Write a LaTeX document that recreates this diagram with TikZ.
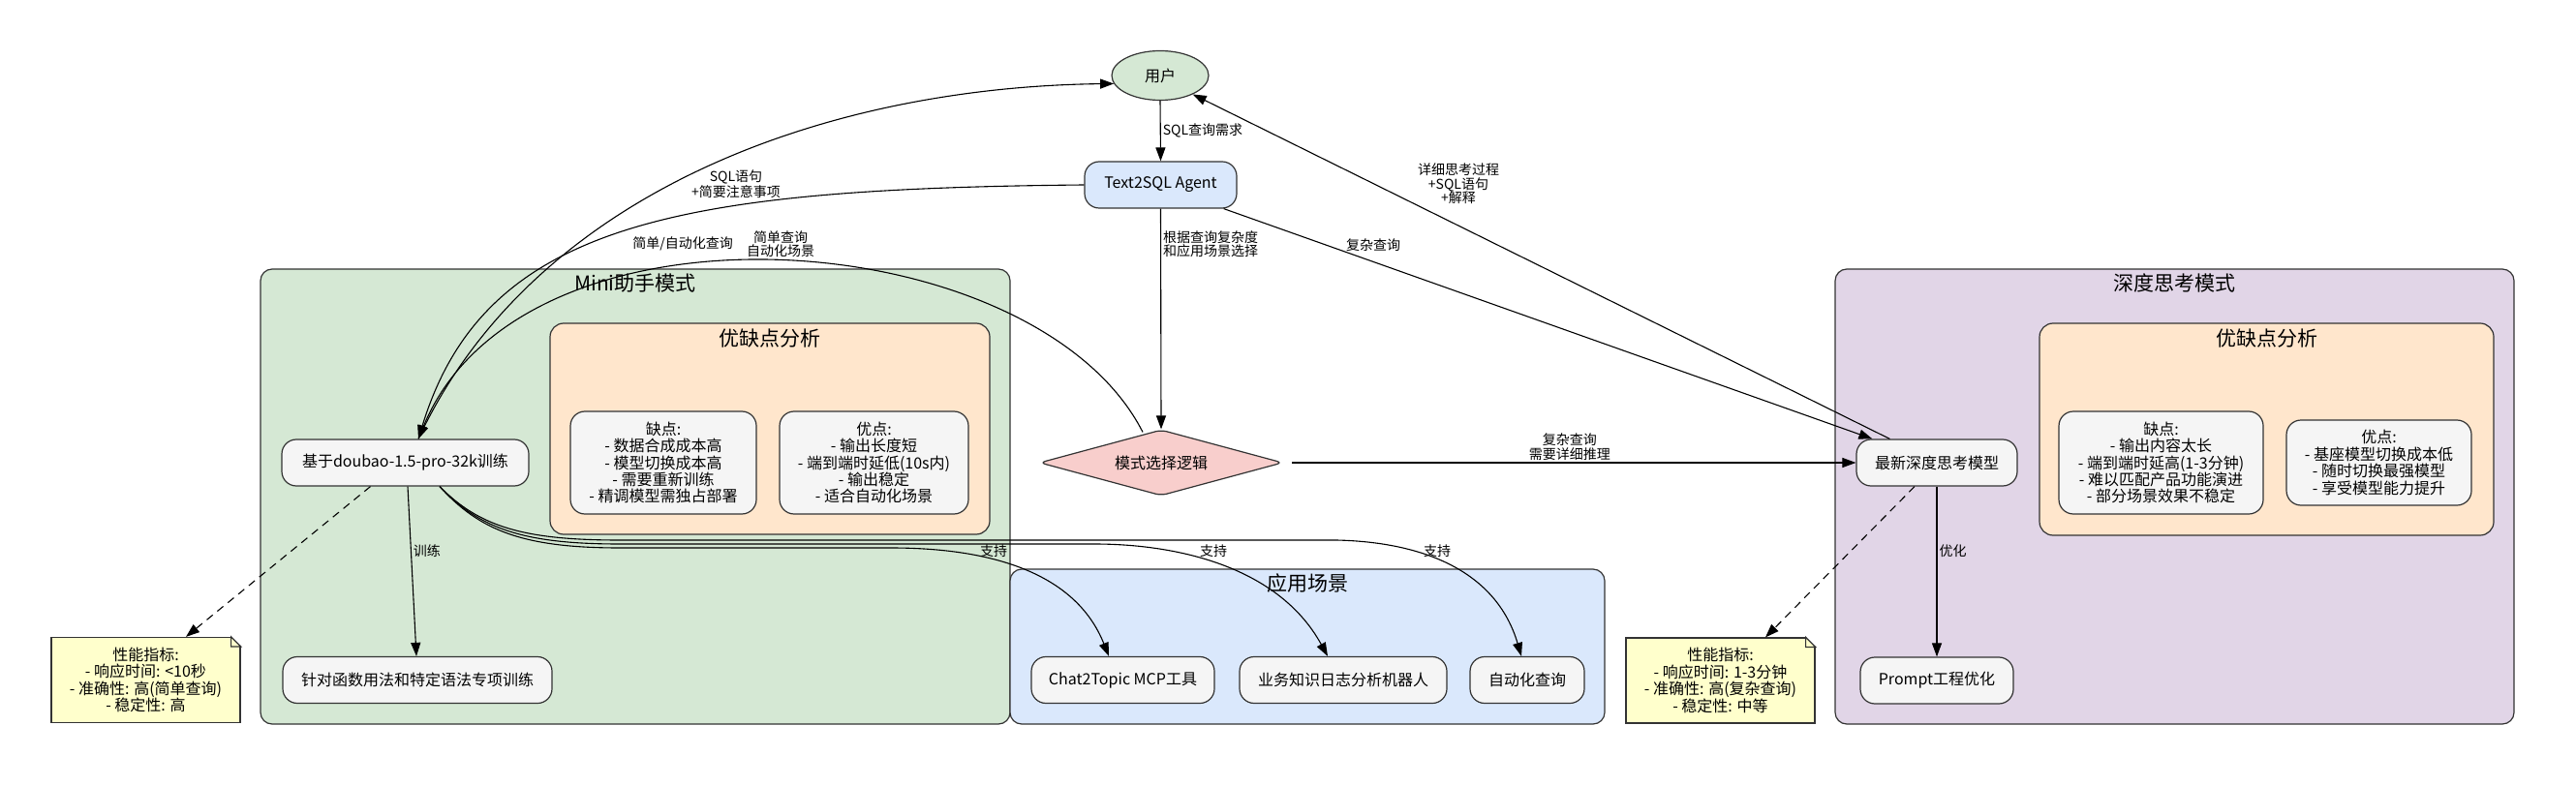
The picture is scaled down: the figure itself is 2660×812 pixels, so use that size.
\documentclass[tikz,border=0pt]{standalone}
\usepackage{fontspec}
\setmainfont{Noto Sans CJK SC}
\usetikzlibrary{arrows.meta,positioning,shapes.geometric}

\definecolor{grpgreen}{HTML}{D5E8D4}
\definecolor{grpblue}{HTML}{DAE8FC}
\definecolor{grppurple}{HTML}{E1D5E7}
\definecolor{prosfill}{HTML}{FFE6CC}
\definecolor{boxgray}{HTML}{F5F5F5}
\definecolor{decpink}{HTML}{F8CECC}
\definecolor{noteyellow}{HTML}{FFFFCC}
\definecolor{edgecol}{HTML}{333333}

\begin{document}
\begin{tikzpicture}[x=0.5pt,y=-0.5pt,>={Triangle[length=7pt,width=5pt]},
 grp/.style={draw=edgecol,line width=0.6pt,rounded corners=6pt,inner sep=0pt},
 gtitle/.style={font=\fontsize{10.5}{12}\selectfont,inner sep=0pt},
 box/.style={draw=edgecol,fill=boxgray,line width=0.6pt,rounded corners=7.5pt,align=center,
   inner sep=2pt,font=\fontsize{8}{8.7}\selectfont,minimum height=24pt},
 note/.style={draw=edgecol,fill=noteyellow,line width=0.6pt,align=center,inner sep=2pt,
   font=\fontsize{8}{8.75}\selectfont,minimum width=97.5pt,minimum height=44pt},
 lbl/.style={font=\fontsize{7}{7.2}\selectfont,align=center,inner sep=1pt},
 flow/.style={->,line width=0.55pt},
 hint/.style={->,line width=0.55pt,dash pattern=on 4pt off 3pt}]
\useasboundingbox (0,0) rectangle (2660,812);
\fill[white] (0,0) rectangle (2660,812);

% groups
\node[grp,fill=grpgreen,minimum width=387pt,minimum height=235pt] (mini) at (656,513) {};
\node[gtitle] (miniT) at ([yshift=-7.5pt]mini.north) {Mini助手模式};
\node[grp,fill=prosfill,rounded corners=7pt,minimum width=227pt,minimum height=109pt] (miniPC) at (795,443) {};
\node[gtitle] (miniPCT) at ([yshift=-8pt]miniPC.north) {优缺点分析};
\node[grp,fill=grpblue,minimum width=307pt,minimum height=80pt] (apps) at (1350,668) {};
\node[gtitle] (appsT) at ([yshift=-7.5pt]apps.north) {应用场景};
\node[grp,fill=grppurple,minimum width=350.5pt,minimum height=235pt] (deep) at (2245.5,513) {};
\node[gtitle] (deepT) at ([yshift=-7.5pt]deep.north) {深度思考模式};
\node[grp,fill=prosfill,rounded corners=7pt,minimum width=234.5pt,minimum height=109.5pt] (deepPC) at (2340.5,443.5) {};
\node[gtitle] (deepPCT) at ([yshift=-8pt]deepPC.north) {优缺点分析};

% nodes
\node[draw=edgecol,fill=grpgreen,ellipse,line width=0.6pt,minimum width=50pt,minimum height=25.5pt,
  inner sep=1pt,font=\fontsize{8}{9}\selectfont] (user) at (1198,78) {用户};
\node[box,fill=grpblue,minimum width=78.5pt] (agent) at (1198.5,191) {Text2SQL Agent};
\node[draw=edgecol,fill=decpink,diamond,aspect=3.7,line width=0.6pt,rounded corners=3pt,inner sep=0pt,
  minimum width=125.5pt,minimum height=34pt,font=\fontsize{8}{9}\selectfont] (mode) at (1199,478) {模式选择逻辑};

\node[box,minimum width=127.5pt] (doubao) at (418.5,478) {基于doubao-1.5-pro-32k训练};
\node[box,minimum width=139pt] (train) at (431,702.5) {针对函数用法和特定语法专项训练};
\node[box,minimum width=96pt,minimum height=53pt] (miniCons) at (685,478) {缺点:\\- 数据合成成本高\\- 模型切换成本高\\- 需要重新训练\\- 精调模型需独占部署};
\node[box,minimum width=97.5pt,minimum height=53pt] (miniPros) at (902.5,478) {优点:\\- 输出长度短\\- 端到端时延低(10s内)\\- 输出稳定\\- 适合自动化场景};

\node[box,minimum width=94.5pt] (chat) at (1159.5,702.5) {Chat2Topic MCP工具};
\node[box,minimum width=107pt] (bizbot) at (1387,702.5) {业务知识日志分析机器人};
\node[box,minimum width=59pt] (autoq) at (1577,702.5) {自动化查询};

\node[box,minimum width=83pt] (model) at (2000,478) {最新深度思考模型};
\node[box,minimum width=79pt] (prompt) at (2000,703) {Prompt工程优化};
\node[box,minimum width=105.5pt,minimum height=53pt] (deepCons) at (2231.5,478) {缺点:\\- 输出内容太长\\- 端到端时延高(1-3分钟)\\- 难以匹配产品功能演进\\- 部分场景效果不稳定};
\node[box,minimum width=95.5pt,minimum height=44pt] (deepPros) at (2456.5,478) {优点:\\- 基座模型切换成本低\\- 随时切换最强模型\\- 享受模型能力提升};

\node[note] (noteL) at (150.5,702.5) {性能指标:\\- 响应时间: <10秒\\- 准确性: 高(简单查询)\\- 稳定性: 高};
\node[note] (noteR) at (1776.5,703) {性能指标:\\- 响应时间: 1-3分钟\\- 准确性: 高(复杂查询)\\- 稳定性: 中等};
\foreach \n in {noteL,noteR}{
  \fill[white] ([xshift=-5pt]\n.north east) -- ([xshift=0.6pt,yshift=0.6pt]\n.north east) -- ([yshift=-5pt]\n.north east) -- cycle;
  \draw[edgecol,line width=0.6pt] ([xshift=-5pt]\n.north east) -- ([yshift=-5pt]\n.north east)
    -- ([xshift=-5pt,yshift=-5pt]\n.north east) -- cycle;
}

% connectors
\draw[flow] (user.south) -- node[lbl,right] {SQL查询需求} (agent.north);
\draw[flow] (agent.south) -- node[lbl,right,pos=0.16] {根据查询复杂度\\和应用场景选择} (mode.north);
\draw[flow] (agent.west) .. controls (700,195) and (500,230) .. ([xshift=6.75pt]doubao.north)
  node[lbl] at (705,252) {简单/自动化查询};
\draw[flow] ([xshift=6.75pt]doubao.north) .. controls (550,200) and (850,90) .. (user.190)
  node[lbl] at (760,190) {SQL语句\\+简要注意事项};
\draw[flow] ([xshift=-9.5pt,yshift=-1.5pt]mode.north) .. controls (1070,230) and (540,190) .. ([xshift=6.75pt]doubao.north)
  node[lbl] at (806,252) {简单查询\\自动化场景};
\draw[flow] ([xshift=-7pt]agent.south east) -- ([xshift=8.5pt]model.north west)
  node[lbl] at (1418,253) {复杂查询};
\draw[flow] ([xshift=17.5pt]model.north west) -- (user.330)
  node[lbl] at (1506,190) {详细思考过程\\+SQL语句\\+解释};
\draw[flow,shorten <=4.5pt] (mode) -- node[lbl,above] {复杂查询\\需要详细推理} (model);
\draw[flow] ([xshift=1.25pt]doubao.south) -- node[lbl,right,pos=0.38] {训练} ([xshift=-0.5pt]train.north);
\draw[flow] ([xshift=17.75pt]doubao.south) .. controls (495,548) and (540,566) .. (640,566) -- (920,566)
  .. controls (1020,566) and (1110,590) .. ([xshift=-7.25pt]chat.north) node[lbl] at (1026,569) {支持};
\draw[flow] ([xshift=17.75pt]doubao.south) .. controls (495,546) and (540,562) .. (640,562) -- (1130,562)
  .. controls (1215,562) and (1320,585) .. ([xshift=-8pt]bizbot.north) node[lbl] at (1253,569) {支持};
\draw[flow] ([xshift=17.75pt]doubao.south) .. controls (495,544) and (540,558) .. (640,558) -- (1380,558)
  .. controls (1470,560) and (1545,590) .. ([xshift=-3pt]autoq.north) node[lbl] at (1484,569) {支持};
\draw[hint] ([xshift=-18pt]doubao.south) -- ([xshift=20.75pt]noteL.north);
\draw[hint] ([xshift=-11.5pt]model.south) -- ([xshift=23.25pt]noteR.north);
\draw[flow] (model) -- node[lbl,right,pos=0.38] {优化} (prompt);
\end{tikzpicture}
\end{document}
